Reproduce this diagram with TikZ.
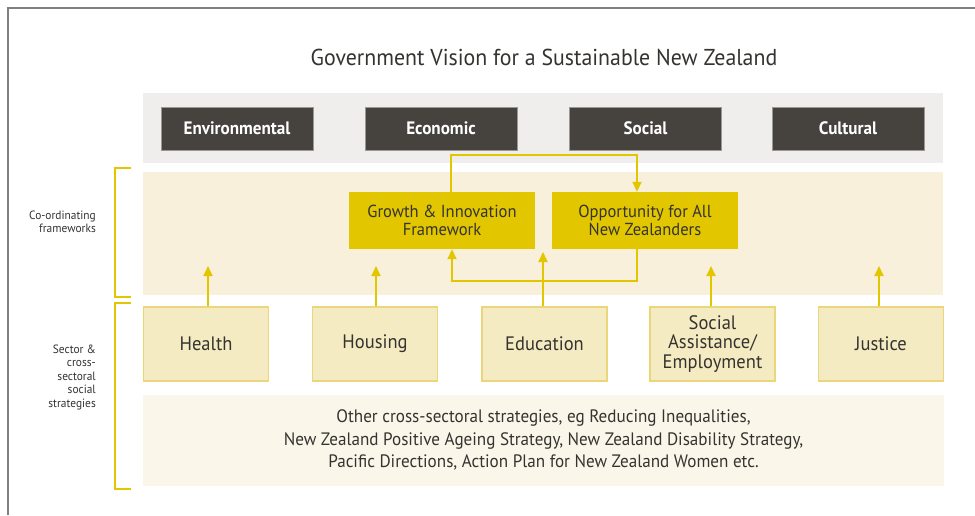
\documentclass[tikz,border=0pt]{standalone}
\usepackage{fontspec}
\setmainfont{PT Sans}[FakeStretch=0.95]
\usetikzlibrary{arrows.meta}
\definecolor{bandgray}{HTML}{EFEEEC}
\definecolor{darkbox}{HTML}{46433F}
\definecolor{darkedge}{HTML}{9A9894}
\definecolor{bandyel}{HTML}{F8F0DA}
\definecolor{mustard}{HTML}{E1C600}
\definecolor{secfill}{HTML}{F5EBC2}
\definecolor{secedge}{HTML}{EBD67A}
\definecolor{palebox}{HTML}{FBF6EA}
\definecolor{txt}{HTML}{353330}
\definecolor{framegray}{HTML}{7F7F7F}
\tikzset{
  pillar/.style={draw=darkedge, line width=1pt, fill=darkbox, text=white,
    minimum width=152, minimum height=43, inner sep=0pt, font=\bfseries\fontsize{18}{20}\selectfont},
  frame/.style={fill=mustard, draw=none, text=txt, minimum width=186, minimum height=57,
    inner sep=0pt, align=center, font=\fontsize{17.4}{18.5}\selectfont},
  sector/.style={fill=secfill, draw=secedge, line width=1.5pt, text=txt, minimum width=125,
    minimum height=74, inner sep=0pt, align=center, font=\fontsize{19.5}{19.5}\selectfont},
  arr/.style={draw=mustard, line width=1.8pt, -{Triangle[length=10pt,width=9pt]}},
  brk/.style={draw=mustard, line width=2pt},
  sidelbl/.style={text=txt, align=right, anchor=east, inner sep=0pt, font=\fontsize{12}{13.5}\selectfont}
}
\begin{document}
\begin{tikzpicture}[x=1pt, y=-1pt]
\useasboundingbox (0,0) rectangle (975,515);
\fill[white] (0,0) rectangle (975,515);
% outer frame (partly cut off)
\draw[framegray, line width=2pt] (8,515) -- (8,8) -- (975,8);
% title
\node[text=txt, font=\fontsize{23}{26}\selectfont] (title) at (544,57) {Government Vision for a Sustainable New Zealand};
% bands
\fill[bandgray] (143,93) rectangle (943,163);
\fill[bandyel] (143,172) rectangle (943,295);
\fill[palebox] (143,395) rectangle (944,486);
% pillars
\node[pillar] (env) at (237,128.5) {Environmental};
\node[pillar] (eco) at (441,128.5) {Economic};
\node[pillar] (soc) at (645.5,128.5) {Social};
\node[pillar] (cul) at (848,128.5) {Cultural};
% frameworks
\node[frame] (growth) at (442,220.5) {Growth \& Innovation\\Framework};
\node[frame] (opp) at (645,220.5) {Opportunity for All\\New Zealanders};
% sectors
\node[sector] (health) at (206,344) {Health};
\node[sector] (housing) at (375,344) {Housing};
\node[sector] (edu) at (544.5,344) {Education};
\node[sector] (sa) at (712.5,344) {Social\\Assistance/\\Employment};
\node[sector] (justice) at (881,344) {Justice};
% other strategies
\node[text=txt, align=center, font=\fontsize{18}{22.5}\selectfont] (other) at (543.5,440)
 {Other cross-sectoral strategies, eg Reducing Inequalities,\\
  New Zealand Positive Ageing Strategy, New Zealand Disability Strategy,\\
  Pacific Directions, Action Plan for New Zealand Women etc.};
% side labels
\node[sidelbl] (lblco) at (96,222) {Co-ordinating\\frameworks};
\node[sidelbl] (lblsec) at (96,377) {Sector \&\\cross-\\sectoral\\social\\strategies};
% brackets
\draw[brk] (131,168) -- (115,168) -- (115,297) -- (131,297);
\draw[brk] (131,303) -- (115,303) -- (115,489) -- (131,489);
% sector arrows
\coordinate (thealth) at (208,266);
\coordinate (thousing) at (376,266);
\coordinate (tedu) at (543,252);
\coordinate (tsa) at (711,266);
\coordinate (tjustice) at (879,266);
\draw[arr] (health.north -| thealth) -- (thealth);
\draw[arr] (housing.north -| thousing) -- (thousing);
\draw[arr] (edu.north -| tedu) -- (tedu);
\draw[arr] (sa.north -| tsa) -- (tsa);
\draw[arr] (justice.north -| tjustice) -- (tjustice);
% loop between frameworks
\coordinate (lt) at (451,155);
\coordinate (rt) at (637,155);
\coordinate (rb) at (637,281);
\coordinate (lb) at (452,281);
\draw[arr] (growth.north -| lt) -- (lt) -- (rt) -- (opp.north -| rt);
\draw[arr] (opp.south -| rb) -- (rb) -- (lb) -- (growth.south -| lb);
\end{tikzpicture}
\end{document}
